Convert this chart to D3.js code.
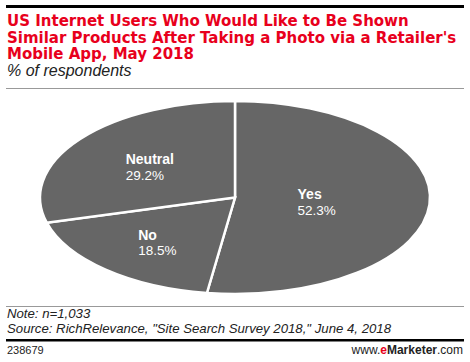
<!DOCTYPE html>
<html>
<head>
<meta charset="utf-8">
<script src="https://cdn.jsdelivr.net/npm/d3@7"></script>
<style>
  body { margin: 0; background: #fff; }
  svg { display: block; }
  text { font-family: "Liberation Sans", Arial, sans-serif; }
</style>
</head>
<body>
<div class="pie-chart"></div>
<script>
const categories = ["Yes", "No", "Neutral"];
const values = [52.3, 18.5, 29.2];
const titleLines = [
    "US Internet Users Who Would Like to Be Shown",
    "Similar Products After Taking a Photo via a Retailer's",
    "Mobile App, May 2018"
];
const subtitle = "% of respondents";
const notes = ["Note: n=1,033", "Source: RichRelevance, \"Site Search Survey 2018,\" June 4, 2018"];
const chartId = "238679";

const width = 470;
const height = 362;

const svg = d3.select('.pie-chart').append('svg')
    .attr('width', width)
    .attr('height', height)
    .attr('viewBox', [0, 0, width, height]);

// header
svg.append('rect').attr('x', 6).attr('y', 5).attr('width', 458).attr('height', 3).attr('fill', '#000');

svg.selectAll('.title')
    .data(titleLines)
    .enter()
    .append('text')
    .attr('class', 'title')
    .attr('x', 7)
    .attr('y', (d, i) => 26 + i * 16.5)
    .style('font-family', '"DejaVu Sans", sans-serif')
    .style('font-weight', 'bold')
    .style('font-size', '15px')
    .style('fill', '#e8001c')
    .text(d => d);

svg.append('text')
    .attr('x', 7)
    .attr('y', 76)
    .style('font-style', 'italic')
    .style('font-size', '16px')
    .style('fill', '#222')
    .text(subtitle);

svg.append('rect').attr('x', 6).attr('y', 88).attr('width', 458).attr('height', 1).attr('fill', '#999');

// pie, drawn as a circle and squashed into an ellipse
const cx = 235, cy = 197.5, rx = 195, ry = 96.5;

const pie = d3.pie().sort(null).value(d => d)(values);
const arc = d3.arc().innerRadius(0).outerRadius(rx);

const pieG = svg.append('g')
    .attr('transform', `translate(${cx},${cy}) scale(1,${ry / rx})`);

pieG.selectAll('path')
    .data(pie)
    .enter()
    .append('path')
    .attr('d', arc)
    .attr('fill', '#666')
    .attr('stroke', '#fff')
    .attr('stroke-width', 2.5)
    .attr('vector-effect', 'non-scaling-stroke');

// labels: left aligned blocks centred on a centroid
const labelR = { Yes: 0.42, No: 0.6, Neutral: 0.55 };

pie.forEach((p, i) => {
    const name = categories[i];
    const r = rx * labelR[name];
    const [lx, ly] = d3.arc().innerRadius(r).outerRadius(r).centroid(p);
    const px = cx + lx, py = cy + ly * ry / rx;

    const g = svg.append('g');
    const t1 = g.append('text')
        .style('font-weight', 'bold')
        .style('font-size', '14px')
        .style('fill', '#fff')
        .text(name);
    const t2 = g.append('text')
        .style('font-size', '13.5px')
        .style('fill', '#fff')
        .text(values[i].toFixed(1) + '%');
    const w = Math.max(t1.node().getComputedTextLength(), t2.node().getComputedTextLength());
    t1.attr('x', px - w / 2).attr('y', py - 1);
    t2.attr('x', px - w / 2).attr('y', py + 14.5);
});

// footer
svg.append('rect').attr('x', 6).attr('y', 306).attr('width', 458).attr('height', 1).attr('fill', '#999');

svg.selectAll('.note')
    .data(notes)
    .enter()
    .append('text')
    .attr('class', 'note')
    .attr('x', 7)
    .attr('y', (d, i) => 318 + i * 15)
    .style('font-style', 'italic')
    .style('font-size', '13.2px')
    .style('fill', '#222')
    .text(d => d);

svg.append('rect').attr('x', 6).attr('y', 339).attr('width', 458).attr('height', 2.5).attr('fill', '#000');

svg.append('text')
    .attr('x', 7)
    .attr('y', 354)
    .style('font-size', '11px')
    .style('fill', '#222')
    .text(chartId);

const brand = svg.append('text')
    .attr('x', 463)
    .attr('y', 354)
    .attr('text-anchor', 'end')
    .style('font-size', '12px')
    .style('fill', '#222');
brand.append('tspan').text('www.');
brand.append('tspan').style('font-weight', 'bold').style('fill', '#e8001c').text('e');
brand.append('tspan').style('font-weight', 'bold').text('Marketer');
brand.append('tspan').text('.com');
</script>
</body>
</html>
